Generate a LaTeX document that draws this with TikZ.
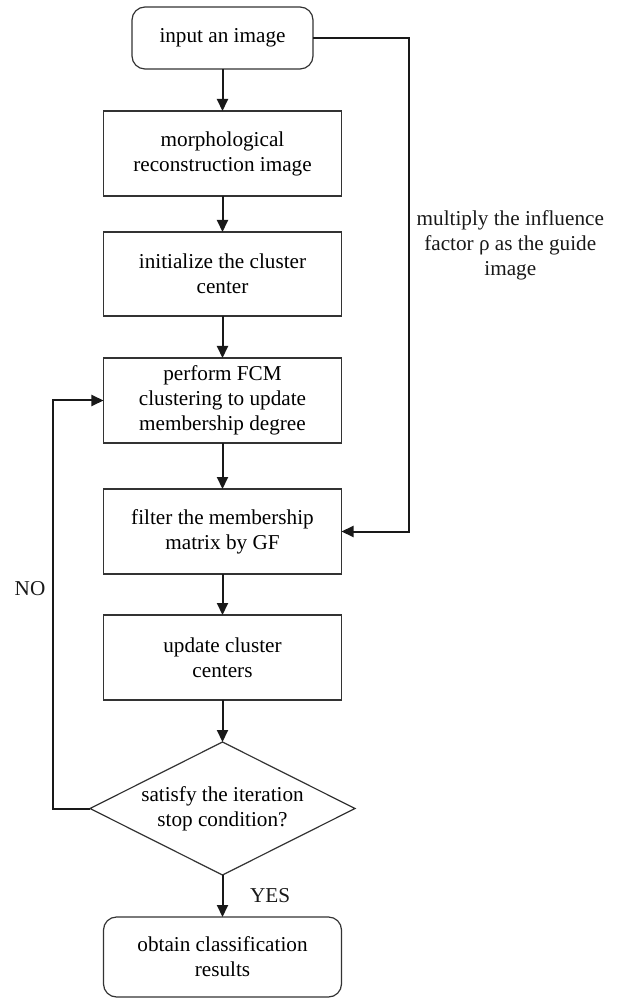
\documentclass[tikz,border=0pt]{standalone}
\usepackage{fontspec}
\setmainfont{Liberation Serif}
\usepackage{tikz}
\usetikzlibrary{arrows.meta,positioning,shapes.geometric}

\begin{document}
\begin{tikzpicture}[font=\fontsize{10.6pt}{12.5pt}\selectfont,
  stepbox/.style={draw=black!80, line width=0.6pt, minimum width=119pt, minimum height=42.5pt, align=center, inner sep=2pt, outer sep=0pt},
  endbox/.style={stepbox, rounded corners=6.5pt},
  decision/.style={draw=black!80, line width=0.6pt, diamond, aspect=2, minimum width=132.5pt, minimum height=66.5pt, inner sep=0pt, outer sep=0pt, align=center},
  arr/.style={-{Triangle[length=6pt,width=5.5pt]}, line width=1pt, black!90}]
  \useasboundingbox (-111.25pt,19pt) rectangle (201.25pt,-480.5pt);

  \node[endbox, minimum width=90.5pt, minimum height=31pt] (input) at (0,0) {input an image};
  \node[stepbox, below=21pt of input] (morph) {morphological\\reconstruction image};
  \node[stepbox, minimum height=42pt, below=18pt of morph] (init) {initialize the cluster\\center};
  \node[stepbox, below=21pt of init] (fcm) {perform FCM\\clustering to update\\membership degree};
  \node[stepbox, below=23pt of fcm] (filt) {filter the membership\\matrix by GF};
  \node[stepbox, below=20.5pt of filt] (upd) {update cluster\\centers};
  \node[decision, below=21pt of upd] (cond) {satisfy the iteration\\stop condition?};
  \node[endbox, minimum height=40pt, below=21pt of cond] (res) {obtain classification\\results};

  \coordinate (rt) at (93.25pt,0);
  \coordinate (lp) at ([xshift=-18.5pt]cond.west);

  \draw[arr] (input) -- (morph);
  \draw[arr] (morph) -- (init);
  \draw[arr] (init) -- (fcm);
  \draw[arr] (fcm) -- (filt);
  \draw[arr] (filt) -- (upd);
  \draw[arr] (upd) -- (cond);
  \draw[arr] (cond) -- node[right=10pt] {YES} (res);
  \draw[arr] (cond.west) -- (lp) |- node[pos=0.27, left] {NO} (fcm.west);
  \draw[arr] (input.east) -- (rt) |- node[pos=0.21, right, align=center] {multiply the influence\\factor ρ as the guide\\image} (filt.east);
\end{tikzpicture}
\end{document}
